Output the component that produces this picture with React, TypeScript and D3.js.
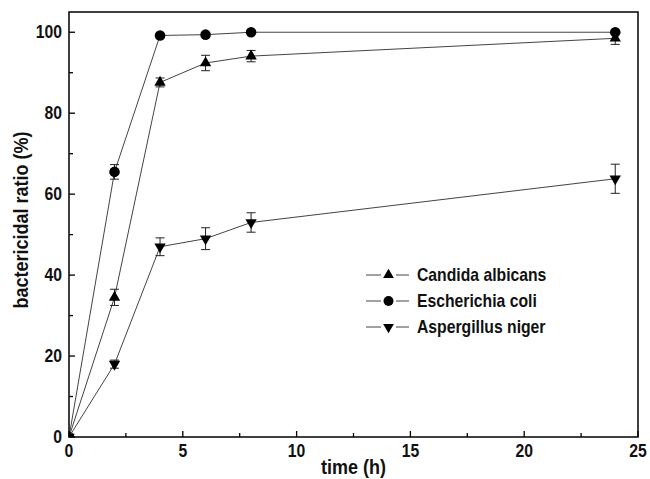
import React, { useEffect, useRef } from 'react';
import * as d3 from 'd3';

const times = [0, 2, 4, 6, 8, 24];
const candida = [0, 34.5, 87.6, 92.4, 94.1, 98.5];
const candidaErr = [0, 2, 1.1, 1.9, 1.4, 1.5];
const ecoli = [0, 65.5, 99.2, 99.4, 100, 100];
const ecoliErr = [0, 1.8, 0.3, 0.3, 0.3, 0.4];
const niger = [0, 18, 47, 49, 53, 63.8];
const nigerErr = [0, 1, 2.2, 2.7, 2.4, 3.6];
const seriesNames = ['Candida albicans', 'Escherichia coli', 'Aspergillus niger'];
const xTicks = [0, 5, 10, 15, 20, 25];
const yTicks = [0, 20, 40, 60, 80, 100];

const App = () => {
  const ref = useRef<SVGSVGElement>(null);

  useEffect(() => {
    const svg = d3.select(ref.current);
    svg.selectAll('*').remove();

    const margin = { top: 12, right: 12, bottom: 42, left: 69 };
    const W = 650, H = 479;
    const width = W - margin.left - margin.right;
    const height = H - margin.top - margin.bottom;
    const font = 'Liberation Sans, Arial, sans-serif';

    const x = d3.scaleLinear().domain([0, 25]).range([0, width]);
    const y = d3.scaleLinear().domain([0, 105]).range([height, 0]);

    const g = svg.append('g').attr('transform', `translate(${margin.left},${margin.top})`);

    // bold, slightly condensed text like the original
    const label = (parent: any, tx: number, ty: number, txt: string, size: number, anchor = 'start', rot = 0) =>
      parent.append('text')
        .attr('transform', `translate(${tx},${ty}) rotate(${rot}) scale(0.9,1)`)
        .attr('text-anchor', anchor).attr('font-family', font)
        .attr('font-weight', 'bold').attr('font-size', size).attr('fill', '#111')
        .text(txt);

    g.append('clipPath').attr('id', 'plotclip')
      .append('rect').attr('width', width).attr('height', height);

    // ticks (inward)
    const ax = g.append('g').attr('stroke', '#000').attr('stroke-width', 1.3);
    d3.range(0, 25.01, 2.5).forEach(v => {
      const major = v % 5 === 0;
      ax.append('line').attr('x1', x(v)).attr('x2', x(v))
        .attr('y1', height).attr('y2', height - (major ? 6 : 4));
    });
    d3.range(0, 105, 10).forEach(v => {
      const major = v % 20 === 0;
      ax.append('line').attr('y1', y(v)).attr('y2', y(v))
        .attr('x1', 0).attr('x2', major ? 6 : 4);
    });

    xTicks.forEach(d => label(g, x(d), height + 20, String(d), 17.5, 'middle'));
    yTicks.forEach(d => label(g, -7, y(d) + 6, String(d), 17.5, 'end'));

    label(g, width / 2, height + 37, 'time (h)', 20, 'middle');
    label(g, -41, 208, 'bactericidal ratio (%)', 20, 'middle', -90);

    const series = [
      { name: seriesNames[0], vals: candida, err: candidaErr, sym: d3.symbolTriangle, rot: 0 },
      { name: seriesNames[1], vals: ecoli, err: ecoliErr, sym: d3.symbolCircle, rot: 0 },
      { name: seriesNames[2], vals: niger, err: nigerErr, sym: d3.symbolTriangle, rot: 180 },
    ];

    const line = d3.line<number>().x((_, i) => x(times[i])).y(d => y(d));
    const plot = g.append('g').attr('clip-path', 'url(#plotclip)');

    series.forEach(s => {
      plot.append('path').datum(s.vals).attr('d', line)
        .attr('fill', 'none').attr('stroke', '#444').attr('stroke-width', 1);
      s.vals.forEach((v, i) => {
        const e = s.err[i];
        if (e > 0.5) {
          const cx = x(times[i]);
          const eg = plot.append('g').attr('stroke', '#222').attr('stroke-width', 1);
          eg.append('line').attr('x1', cx).attr('x2', cx).attr('y1', y(v - e)).attr('y2', y(v + e));
          eg.append('line').attr('x1', cx - 4.5).attr('x2', cx + 4.5).attr('y1', y(v - e)).attr('y2', y(v - e));
          eg.append('line').attr('x1', cx - 4.5).attr('x2', cx + 4.5).attr('y1', y(v + e)).attr('y2', y(v + e));
        }
      });
      const sz = s.sym === d3.symbolCircle ? 88 : 56;
      plot.selectAll(null).data(s.vals).enter().append('path')
        .attr('d', d3.symbol().type(s.sym).size(sz)())
        .attr('transform', (d, i) => `translate(${x(times[i])},${y(d)}) rotate(${s.rot})`)
        .attr('fill', '#000');
    });

    // frame
    g.append('rect').attr('width', width).attr('height', height)
      .attr('fill', 'none').attr('stroke', '#000').attr('stroke-width', 1.5);

    // legend
    const lg = g.append('g').attr('transform', `translate(${366 - margin.left},${275 - margin.top})`);
    series.forEach((s, i) => {
      const row = lg.append('g').attr('transform', `translate(0,${i * 26})`);
      row.append('line').attr('x1', 0).attr('x2', 15).attr('stroke', '#444').attr('stroke-width', 1);
      row.append('line').attr('x1', 30).attr('x2', 43).attr('stroke', '#444').attr('stroke-width', 1);
      row.append('path').attr('d', d3.symbol().type(s.sym).size(s.sym === d3.symbolCircle ? 78 : 50)())
        .attr('transform', `translate(22.5,0) rotate(${s.rot})`).attr('fill', '#000');
      label(row, 51, 6, s.name, 17.5, 'start');
    });
  }, []);

  return (
    <svg ref={ref} width={650} height={479}
      style={{ position: 'absolute', left: 0, top: 0, background: '#fff' }} />
  );
};

export default App;
